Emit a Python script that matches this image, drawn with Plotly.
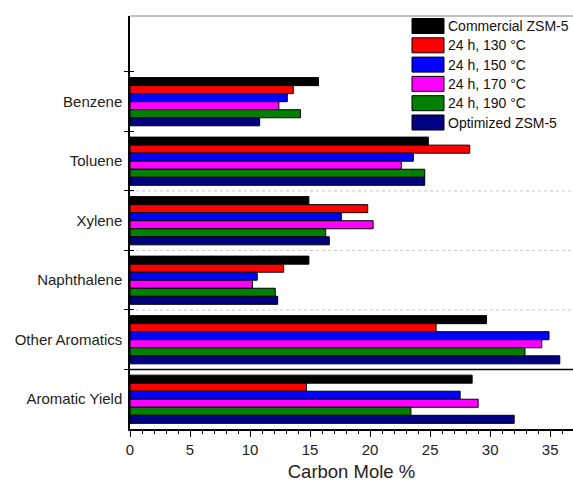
import plotly.graph_objects as go

categories = ["Benzene", "Toluene", "Xylene", "Naphthalene", "Other Aromatics", "Aromatic Yield"]
series_names = ["Commercial ZSM-5", "24 h, 130 °C", "24 h, 150 °C", "24 h, 170 °C", "24 h, 190 °C", "Optimized ZSM-5"]
commercial = [15.7, 24.85, 14.9, 14.9, 29.7, 28.5]
h130 = [13.6, 28.3, 19.8, 12.8, 25.5, 14.7]
h150 = [13.1, 23.6, 17.6, 10.6, 34.9, 27.5]
h170 = [12.4, 22.6, 20.25, 10.2, 34.3, 29.0]
h190 = [14.2, 24.55, 16.3, 12.1, 32.9, 23.4]
optimized = [10.8, 24.55, 16.6, 12.3, 35.8, 32.0]
series_values = [commercial, h130, h150, h170, h190, optimized]
colors = ["#000000", "#FF0000", "#0000FF", "#FF00FF", "#008000", "#000080"]

W, H = 573, 482
L, R, T, B = 130, 0, 16, 53
font = "Liberation Sans, Arial, sans-serif"

fig = go.Figure()
for name, vals, col in zip(series_names, series_values, colors):
    fig.add_trace(go.Bar(
        y=categories, x=vals, name=name, orientation="h",
        marker=dict(color=col, line=dict(color="#000000", width=1)),
        showlegend=False,
    ))
# dummy trace to activate the overlay axis (inner half of crossing ticks)
fig.add_trace(go.Scatter(x=[None] * len(categories), y=categories, yaxis="y2",
                         mode="markers", showlegend=False, hoverinfo="skip"))

n = len(categories)
yrange = [n - 0.5, -1.44]

fig.update_layout(
    width=W, height=H,
    margin=dict(l=L, r=R, t=T, b=B),
    paper_bgcolor="white", plot_bgcolor="white",
    barmode="group", bargap=0.19, bargroupgap=0,
    font=dict(family=font, color="#222222"),
    xaxis=dict(
        range=[0, 36.9], dtick=5, tick0=0,
        showgrid=False, zeroline=False,
        showline=True, linecolor="#000000", linewidth=1.5,
        ticks="outside", ticklen=6, tickwidth=1.2, tickcolor="#000000",
        minor=dict(dtick=1, ticks="outside", ticklen=3, tickcolor="#000000", showgrid=False),
        tickfont=dict(size=15, family=font, color="#222222"),
        title=dict(text="Carbon Mole %", font=dict(size=18.5, family=font, color="#222222"), standoff=12),
    ),
    yaxis=dict(
        type="category", categoryorder="array", categoryarray=categories,
        range=yrange, tickson="boundaries",
        showgrid=False, zeroline=False,
        showline=True, linecolor="#000000", linewidth=1.5,
        ticks="outside", ticklen=4, tickwidth=1.2, tickcolor="#000000",
        tickfont=dict(size=15, family=font, color="#222222"),
        ticklabelstandoff=3,
    ),
    yaxis2=dict(
        type="category", categoryorder="array", categoryarray=categories,
        overlaying="y", matches="y", range=yrange, tickson="boundaries",
        showgrid=False, zeroline=False, showline=False,
        ticks="inside", ticklen=4, tickwidth=1.2, tickcolor="#000000",
        showticklabels=False,
    ),
)

shapes = []
# top frame line
shapes.append(dict(type="line", xref="paper", yref="paper", x0=0, x1=1, y0=1, y1=1,
                   line=dict(color="#808080", width=1)))
# dotted separators and solid separator
for yb in [1.5, 2.5, 3.5]:
    shapes.append(dict(type="line", xref="paper", yref="y", x0=0, x1=1, y0=yb, y1=yb,
                       line=dict(color="#C8C8C8", width=1, dash="dot"), layer="below"))
shapes.append(dict(type="line", xref="paper", yref="y", x0=0, x1=1, y0=4.5, y1=4.5,
                   line=dict(color="#000000", width=1.5)))

# manual legend
pw = W - L - R
ph = H - T - B
def px_x(p):
    return (p - L) / pw
def px_y(p):
    return (H - B - p) / ph

annotations = []
row0, step, sw_h = 26, 19.3, 15
for i, (name, col) in enumerate(zip(series_names, colors)):
    cy = row0 + step * i
    shapes.append(dict(type="rect", xref="paper", yref="paper",
                       x0=px_x(412), x1=px_x(444), y0=px_y(cy + sw_h / 2), y1=px_y(cy - sw_h / 2),
                       fillcolor=col, line=dict(color="#000000", width=1)))
    annotations.append(dict(xref="paper", yref="paper", x=px_x(446), y=px_y(cy),
                            text=name, showarrow=False, xanchor="left", yanchor="middle",
                            font=dict(size=14, family=font, color="#111111")))

fig.update_layout(shapes=shapes, annotations=annotations)
fig.write_html("out.html")
